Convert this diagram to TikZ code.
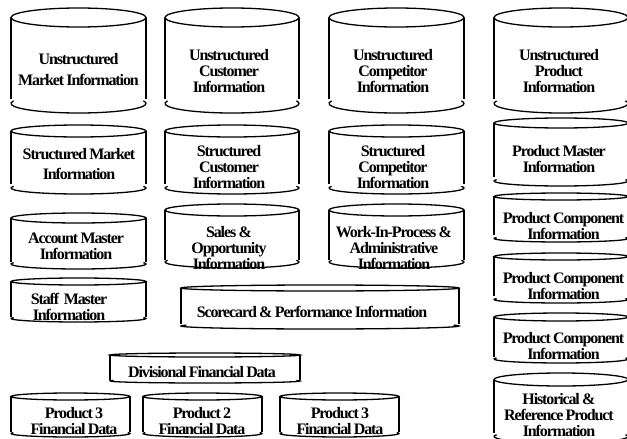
\documentclass[tikz,border=0pt]{standalone}
\usepackage{fontspec}
\setmainfont{Liberation Serif}
\newfontfamily\lblfam[LetterSpace=-7,WordSpace=0.8]{Liberation Serif}
\newcommand{\cylshape}[6]{%
  \pgfmathsetmacro{\cx}{(#1+#2)/2}%
  \pgfmathsetmacro{\rx}{(#2-#1)/2}%
  \pgfmathsetmacro{\ry}{(#4-#3)/2}%
  \pgfmathsetmacro{\cyt}{(#3+#4)/2}%
  \pgfmathsetmacro{\cyb}{#6-\ry}%
  \draw[cylline] (\cx,\cyt) ellipse [x radius=\rx pt,y radius=\ry pt];
  \draw[cylside] (#1,\cyt) -- (#1,#5) (#2,\cyt) -- (#2,#5);
  \draw[cylline] ([shift={(164:\rx pt and \ry pt)}]\cx,\cyb) arc [start angle=164,end angle=376,x radius=\rx pt,y radius=\ry pt];
}
\tikzset{
  cylline/.style={draw=black,line width=1.3pt},
  cylside/.style={draw=black,line width=1.6pt},
  lbl/.style={font=\lblfam\bfseries\fontsize{16}{16}\selectfont,align=center,inner sep=0pt,text=black},
  lblwide/.style={lbl,font=\lblfam\bfseries\fontsize{16}{20.5}\selectfont}
}
\begin{document}
\begin{tikzpicture}[x=1pt,y=-1pt]
\useasboundingbox (0,0) rectangle (627,439);
\clip (0,0) rectangle (627,439);
% row 1
\cylshape{11}{146}{8}{27}{99}{113}
\cylshape{165}{299}{8}{27}{99}{113}
\cylshape{329}{464}{8}{27}{99}{113}
\cylshape{494}{628}{8}{27}{99}{113}
% row 2
\cylshape{11}{146}{125}{137}{184}{194}
\cylshape{165}{299}{125}{137}{184}{194}
\cylshape{329}{464}{125}{137}{184}{194}
\cylshape{494}{628}{118}{128}{177}{186}
% row 3
\cylshape{11}{146}{213}{223}{262}{269}
\cylshape{165}{299}{204}{216}{260}{268}
\cylshape{329}{464}{204}{216}{260}{268}
\cylshape{494}{628}{193}{200}{235}{242}
% lower
\cylshape{11}{146}{278}{285}{317}{322}
\cylshape{181}{459}{285}{291}{324}{329}
\cylshape{494}{628}{253}{260}{296}{303}
\cylshape{494}{628}{313}{321}{357}{363}
\cylshape{110}{300}{353}{357}{380}{383}
\cylshape{494}{628}{373}{386}{433}{443}
\cylshape{11}{130}{393}{400}{432}{437}
\cylshape{143}{262}{393}{400}{432}{437}
\cylshape{280}{399}{393}{400}{432}{437}
% labels
\node[lblwide] (umi) at (78.5,69.5) {Unstructured\\Market Information};
\node[lbl] (uci) at (229,71.5) {Unstructured\\Customer\\Information};
\node[lbl] (ucp) at (393,71.5) {Unstructured\\Competitor\\Information};
\node[lbl] (upi) at (559,71.5) {Unstructured\\Product\\Information};
\node[lblwide] (smi) at (79,164) {Structured Market\\Information};
\node[lbl] (sci) at (229,167) {Structured\\Customer\\Information};
\node[lbl] (scp) at (393,167) {Structured\\Competitor\\Information};
\node[lbl] (pmi) at (559,159) {Product Master\\Information};
\node[lbl] (ami) at (76,246) {Account Master\\Information};
\node[lbl] (soi) at (229,248) {Sales \&\\Opportunity\\Information};
\node[lbl] (wip) at (394,248) {Work-In-Process \&\\Administrative\\Information};
\node[lbl] (pc1) at (563.5,226) {Product Component\\Information};
\node[lbl] (pc2) at (563.5,286) {Product Component\\Information};
\node[lbl] (pc3) at (563.5,346) {Product Component\\Information};
\node[lbl] (stf) at (69,307) {Staff\ \ Master\\Information};
\node[lbl] (spi) at (312,312) {Scorecard \& Performance Information};
\node[lbl] (dfd) at (202,372) {Divisional Financial Data};
\node[lbl] (hrp) at (559,415) {Historical \&\\Reference Product\\Information};
\node[lbl] (p3a) at (74,421) {Product 3\\Financial Data};
\node[lbl] (p2) at (202,421) {Product 2\\Financial Data};
\node[lbl] (p3b) at (340,421) {Product 3\\Financial Data};
\end{tikzpicture}
\end{document}
